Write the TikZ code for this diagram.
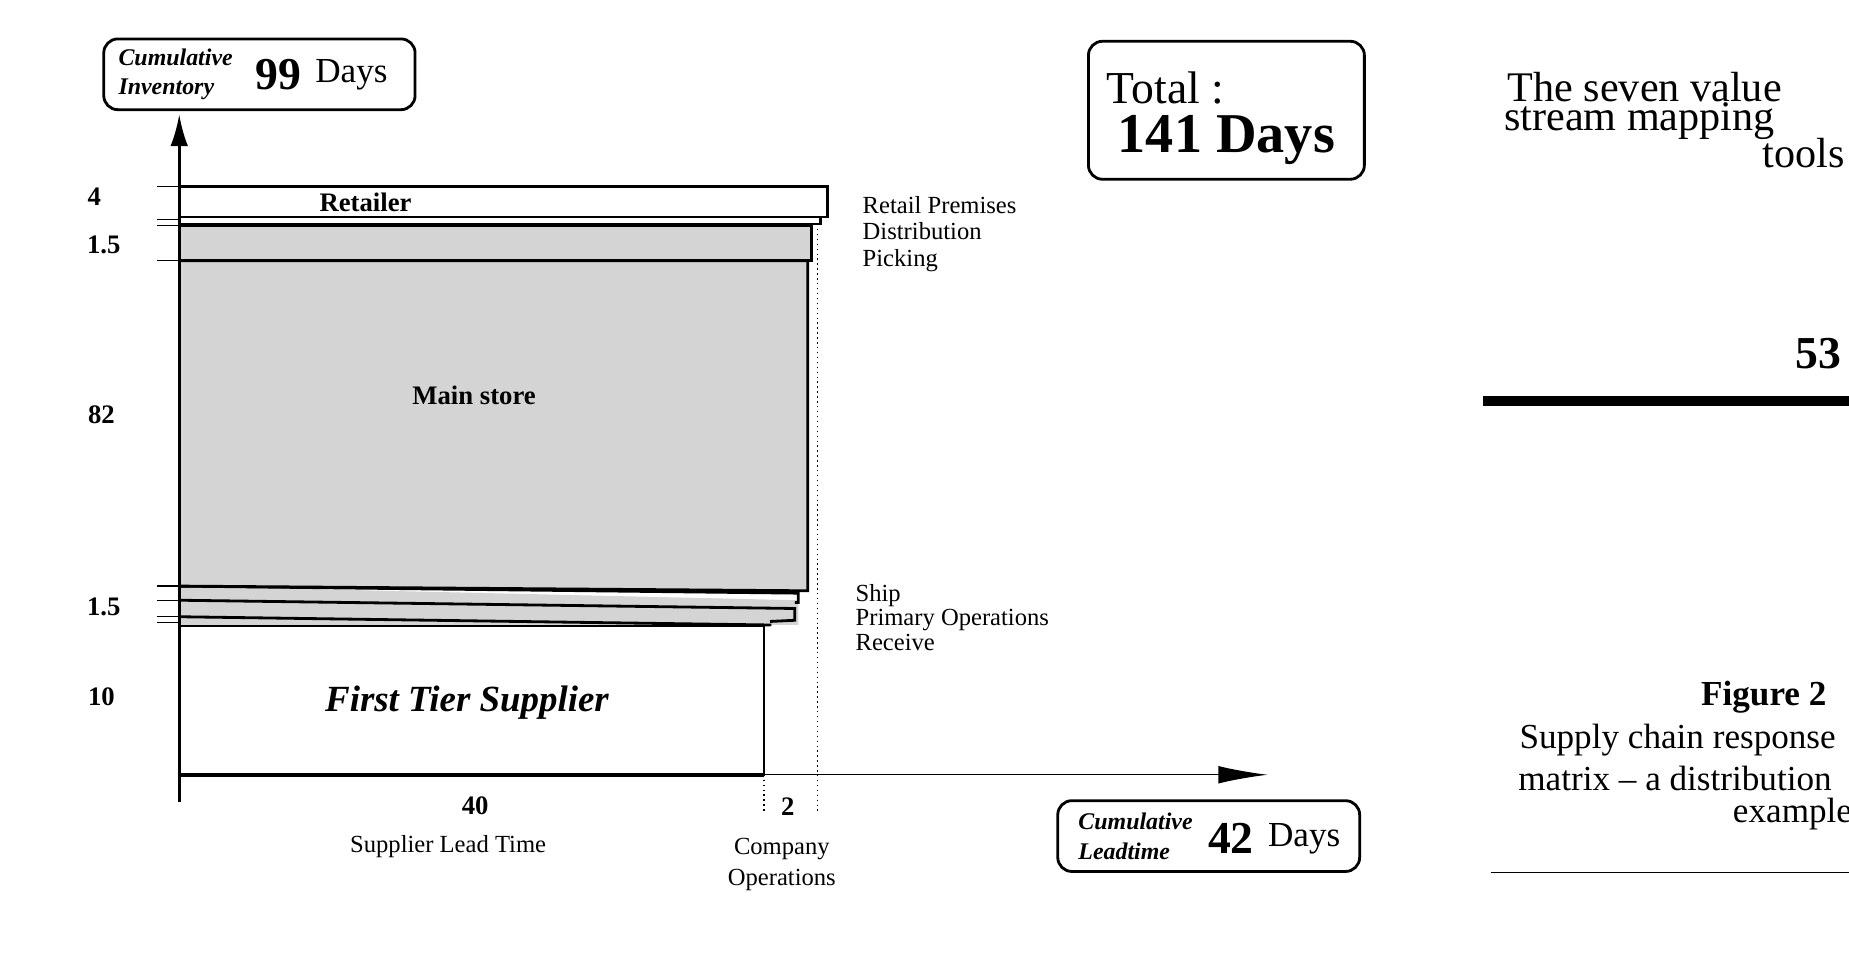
\documentclass[tikz,border=0pt]{standalone}
\usepackage{fontspec}
\setmainfont{Liberation Serif}
\usetikzlibrary{arrows.meta,positioning}
\definecolor{storeGrey}{RGB}{212,212,212}
\tikzset{
  layer/.style={draw=black,thick},
  sidelabel/.style={font=\fontsize{7}{8}\selectfont,anchor=west,inner sep=0pt},
  daylabel/.style={font=\fontsize{7.6}{9}\selectfont\bfseries,inner sep=0pt},
  infobox/.style={draw=black,rounded corners=4pt,thick},
  pagetext/.style={font=\fontsize{12}{14}\selectfont,anchor=west,inner sep=0pt},
  captext/.style={font=\fontsize{10}{12}\selectfont,anchor=west,inner sep=0pt},
  tick/.style={thin}
}
\begin{document}
\begin{tikzpicture}[x=0.011792cm,y=-0.011792cm]
\useasboundingbox (0,0) rectangle (1568,817);
\clip (0,0) rectangle (1568,817);
% layers
\fill[storeGrey] (152,497) -- (677,509) -- (677,530) -- (152,530) -- cycle;
\draw[layer] (152,523) -- (653,530) -- (653,531);
\draw[layer] (152,509) -- (674,516) -- (674,526) -- (653,527);
\draw[layer] (152,497) -- (677,503) -- (677,511) -- (674,511);
\fill[storeGrey] (152,191) rectangle (688,221);
\draw[layer] (152,191) -- (688,191) -- (688,221) -- (152,221);
\fill[storeGrey] (152,221) -- (685,221) -- (685,501) -- (152,497) -- cycle;
\draw[layer] (152,221) -- (685,221) -- (685,501) -- (152,497);
\draw[layer,fill=white] (152,184) rectangle (696,190);
\draw[layer,fill=white] (152,158) rectangle (702,184);
\draw[thin] (152,531) rectangle (648,657);
% ticks
\foreach \ty in {158,186,191,221,497,509,523,528}
  \draw[tick] (133,\ty) -- (152,\ty);
% axes
\draw[thick,-{Latex[length=9pt,width=5pt]}] (152,680) -- (152,97);
\draw[thin,-{Latex[length=14pt,width=5pt]}] (152,657) -- (1075,657);
\draw[very thick] (152,657) -- (648,657);
\draw[densely dotted] (693,190) -- (693,690);
\draw[densely dotted] (648,657) -- (648,690);
% left values
\node[daylabel] (v4) at (80,167) {4};
\node[daylabel] (v15a) at (88,208) {1.5};
\node[daylabel] (v82) at (86,352) {82};
\node[daylabel] (v15b) at (88,515) {1.5};
\node[daylabel] (v10) at (86,591) {10};
% box texts
\node[daylabel] (retailer) at (310,172) {Retailer};
\node[daylabel] (mainstore) at (402,335) {Main store};
\node[font=\fontsize{10.5}{12}\selectfont\bfseries\itshape] (supplier) at (396,596) {First Tier Supplier};
% right labels
\node[sidelabel] (premises) at (731,174) {Retail Premises};
\node[sidelabel] (distrib) at (731,196) {Distribution};
\node[sidelabel] (picking) at (731,221) {Picking};
\node[sidelabel] (ship) at (725,505) {Ship};
\node[sidelabel] (primary) at (725,526) {Primary Operations};
\node[sidelabel] (receive) at (725,545) {Receive};
% x values
\node[daylabel] (d40) at (403,683) {40};
\node[daylabel] (d2) at (668,684) {2};
\node[sidelabel,anchor=center] (leadsup) at (380,718) {Supplier Lead Time};
\node[sidelabel,anchor=center,align=center,font=\fontsize{7}{9}\selectfont] (company) at (663,733) {Company\\Operations};
% info boxes
\draw[infobox] (88,33) rectangle (352,93);
\node[font=\fontsize{6.8}{8.5}\selectfont\bfseries\itshape,align=left,anchor=west] (cuminv) at (90,63) {Cumulative\\Inventory};
\node[font=\fontsize{13}{14}\selectfont\bfseries,anchor=west] (d99) at (206,63) {99};
\node[font=\fontsize{10}{12}\selectfont,right=-3pt of d99] (d99days) {Days};
\draw[infobox] (897,679) rectangle (1153,739);
\node[font=\fontsize{6.8}{8.5}\selectfont\bfseries\itshape,align=left,anchor=west] (cumlead) at (904,709) {Cumulative\\Leadtime};
\node[font=\fontsize{13}{14}\selectfont\bfseries,anchor=west] (d42) at (1014,711) {42};
\node[font=\fontsize{10}{12}\selectfont,right=-3pt of d42] (d42days) {Days};
\draw[infobox] (923,35) rectangle (1157,152);
\node[font=\fontsize{13}{14}\selectfont,anchor=west] (total) at (928,75) {Total :};
\node[font=\fontsize{16}{18}\selectfont\bfseries] (d141) at (1040,119) {141 Days};
% page text
\node[pagetext] (title1) at (1278,74) {The seven value};
\node[pagetext] (title2) at (1275,103) {stream mapping};
\node[pagetext] (title3) at (1494,130) {tools};
\node[pagetext,font=\fontsize{13}{15}\selectfont\bfseries] (page) at (1522,300) {53};
\draw[line width=3pt] (1258,340) -- (1568,340);
\node[captext,font=\fontsize{10}{12}\selectfont\bfseries] (fig) at (1442,591) {Figure 2};
\node[captext] (cap1) at (1288,628) {Supply chain response};
\node[captext] (cap2) at (1287,660) {matrix -- a distribution};
\node[captext] (cap3) at (1469,690) {example};
\draw[thin] (1264,740) -- (1568,740);
\end{tikzpicture}
\end{document}
